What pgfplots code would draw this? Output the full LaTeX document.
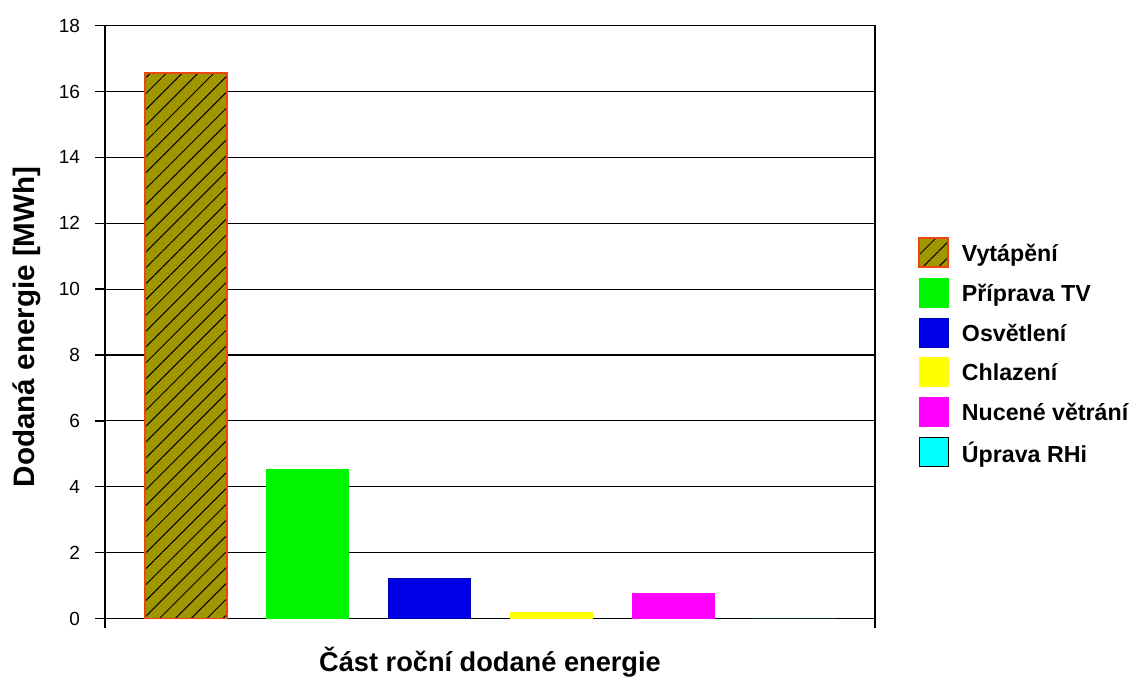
\documentclass[border=0pt]{standalone}
\usepackage{fontspec}
\setmainfont{Liberation Sans}
\usepackage{pgfplots}
\pgfplotsset{compat=1.18}
\usetikzlibrary{patterns.meta}
\definecolor{olivec}{RGB}{160,150,0}
\definecolor{borderc}{RGB}{235,70,20}
\definecolor{greenc}{RGB}{0,245,0}
\definecolor{bluec}{RGB}{0,0,230}
\definecolor{yellowc}{RGB}{255,255,0}
\definecolor{magentac}{RGB}{255,0,255}
\definecolor{cyanc}{RGB}{0,255,255}
\pgfplotsset{sq/.style={legend image code/.code={\draw[##1] (0pt,-6.5pt) rectangle (14.5pt,8pt);}}}
\begin{document}
\begin{tikzpicture}
\useasboundingbox (-52.5pt,-32.25pt) rectangle (515.5pt,309.25pt);
\begin{axis}[
  at={(0,0)}, anchor=south west,
  scale only axis, width=385pt, height=296.4pt,
  xmin=-0.666, xmax=5.66, ymin=0, ymax=18,
  ytick={0,2,...,18},
  xtick={-0.666,5.66}, xticklabels={},
  tick pos=left, tick align=outside, major tick length=5pt,
  tick style={black, line width=0.7pt},
  axis line style={black, line width=0.8pt},
  ymajorgrids, major grid style={black, line width=0.6pt},
  /pgf/number format/assume math mode=true,
  yticklabel style={font=\fontsize{9.5}{11}\selectfont, xshift=-4pt},
  ylabel={\textbf{Dodaná energie [MWh]}},
  ylabel style={at={(axis description cs:-0.101,0.492)}, anchor=center, font=\fontsize{14.8}{16}\selectfont},
  xlabel={\textbf{Část roční dodané energie}},
  xlabel style={at={(axis description cs:0.5,0)}, yshift=-22pt, anchor=center, font=\fontsize{13.6}{15}\selectfont},
  legend style={at={(1.0558,0.644)}, anchor=north west, draw=none, fill=none, inner sep=0pt,
    row sep=5pt, column sep=6.5pt,
    nodes={inner sep=0pt, font=\fontsize{11.6}{13}\selectfont\bfseries}},
  legend cell align=left,
]
\addplot[ybar, bar width=0.674, fill=olivec, draw=borderc, line width=0.8pt,
  postaction={pattern={Lines[angle=45,distance=5.6pt,line width=0.5pt]}, pattern color=black}, sq]
  coordinates {(0,16.57)};
\addlegendentry{Vytápění}
\addplot[ybar, bar width=0.674, fill=greenc, draw=greenc, sq] coordinates {(1,4.52)};
\addlegendentry{Příprava TV}
\addplot[ybar, bar width=0.674, fill=bluec, draw=bluec!80!black, sq] coordinates {(2,1.21)};
\addlegendentry{Osvětlení}
\addplot[ybar, bar width=0.674, fill=yellowc, draw=yellowc, sq] coordinates {(3,0.2)};
\addlegendentry{Chlazení}
\addplot[ybar, bar width=0.674, fill=magentac, draw=magentac, sq] coordinates {(4,0.75)};
\addlegendentry{Nucené větrání}
\addplot[ybar, bar width=0.674, fill=cyanc, draw=none, sq] coordinates {(5,0)};
\addlegendentry{Úprava RHi}
\end{axis}
\end{tikzpicture}
\end{document}
